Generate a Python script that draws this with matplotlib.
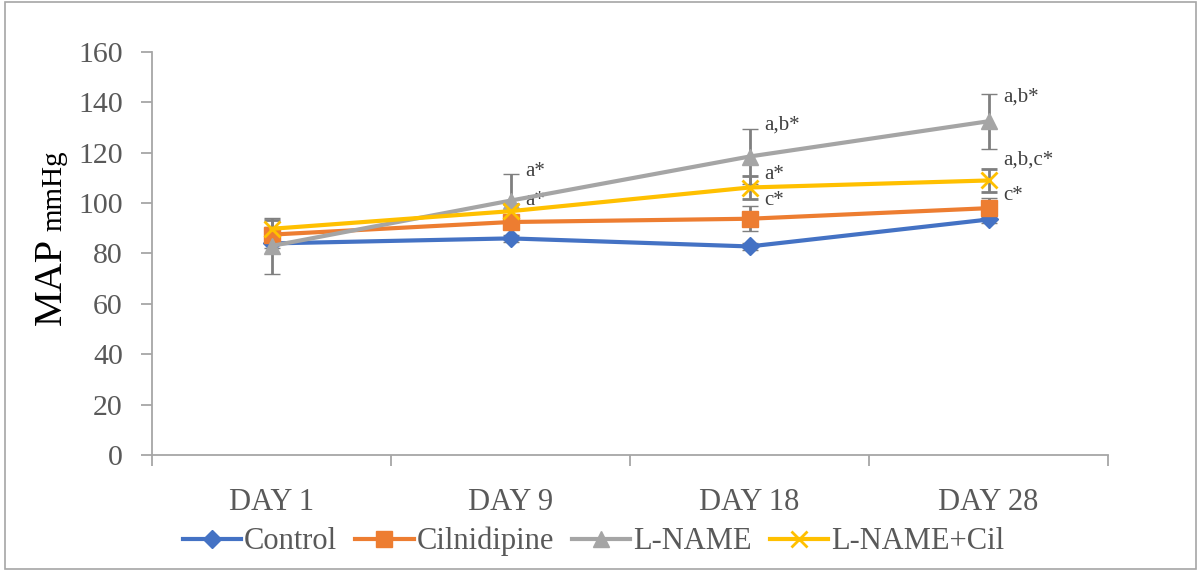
import matplotlib
matplotlib.use("Agg")
import matplotlib.pyplot as plt
import numpy as np
from matplotlib.lines import Line2D
from matplotlib.patches import Rectangle

days = ["DAY 1", "DAY 9", "DAY 18", "DAY 28"]
groups = ["Control", "Cilnidipine", "L-NAME", "L-NAME+Cil"]

control = [84.0, 86.0, 82.8, 93.5]
cilnidipine = [87.5, 92.5, 93.8, 98.0]
lname = [83.0, 101.0, 118.5, 132.5]
lname_cil = [89.8, 96.8, 106.2, 109.0]

control_err = [2.0, 1.5, 1.5, 1.5]
cilnidipine_err = [3.0, 2.0, 5.0, 4.0]
lname_err = [11.0, 10.5, 11.0, 11.0]
lname_cil_err = [3.5, 3.0, 4.5, 4.5]

# significance labels: (day index, value, text)
annotations = [
    (1, 112.5, "a*"),
    (1, 101.0, "a*"),
    (2, 131.0, "a,b*"),
    (2, 111.5, "a*"),
    (2, 101.0, "c*"),
    (3, 142.0, "a,b*"),
    (3, 117.0, "a,b,c*"),
    (3, 103.0, "c*"),
]

series = [
    (control, control_err, "#4472C4", "D", 9),
    (cilnidipine, cilnidipine_err, "#ED7D31", "s", 12),
    (lname, lname_err, "#A5A5A5", "^", 12),
    (lname_cil, lname_cil_err, "#FFC000", "x", 12),
]

plt.rcParams["font.family"] = ["Liberation Serif", "DejaVu Serif"]

fig = plt.figure(figsize=(12.01, 5.71), dpi=100)
ax = fig.add_axes([152 / 1201, 1 - 455 / 571, 956 / 1201, 403 / 571])

x = np.arange(len(days))
handles = []
for (vals, errs, color, marker, ms), name in zip(series, groups):
    ax.errorbar(x, vals, yerr=errs, color=color, marker=marker, markersize=ms,
                markeredgewidth=2 if marker == "x" else 1, markeredgecolor=color,
                linewidth=3, ecolor="#7F7F7F", elinewidth=2, capsize=6, capthick=2,
                zorder=3)
    handles.append(Line2D([], [], color=color, marker=marker, markersize=ms,
                          markeredgewidth=2 if marker == "x" else 1,
                          markeredgecolor=color, linewidth=3, label=name))

for i, v, t in annotations:
    ax.text(i + 0.06, v, t, fontsize=15, color="#404040", ha="left", va="center")

ax.set_xlim(-0.5, 3.5)
ax.set_ylim(0, 160)
ax.set_yticks(np.arange(0, 161, 20))
ax.set_xticks(x)
ax.set_xticklabels(days, fontsize=22, color="#595959")
ax.set_xticks(np.arange(-0.5, 3.6, 1), minor=True)
ax.tick_params(axis="x", which="major", length=0, pad=24)
ax.tick_params(axis="x", which="minor", length=8, color="#A6A6A6", width=1.3)
ax.tick_params(axis="y", labelsize=21.5, labelcolor="#595959", length=8,
               color="#A6A6A6", width=1.3, pad=13)

for side in ["top", "right"]:
    ax.spines[side].set_visible(False)
for side in ["left", "bottom"]:
    ax.spines[side].set_color("#A6A6A6")
    ax.spines[side].set_linewidth(1.3)

fig.text(61 / 1201, 1 - 325 / 571, "MAP", rotation=90, fontsize=29,
         ha="left", va="baseline", rotation_mode="anchor")
fig.text(61 / 1201, 1 - 231 / 571, "mmHg", rotation=90, fontsize=21,
         ha="left", va="baseline", rotation_mode="anchor")

ax.legend(handles=handles, loc="center", bbox_to_anchor=(0.462, -0.215), ncol=4,
          frameon=False, fontsize=22, handlelength=1.9, handletextpad=0.1,
          columnspacing=0.6, labelcolor="#595959")

fig.patches.append(Rectangle((0.004, 0.004), 0.992, 0.992, transform=fig.transFigure,
                             fill=False, edgecolor="#A6A6A6", linewidth=1.2))

fig.savefig("out.png", dpi=100)
